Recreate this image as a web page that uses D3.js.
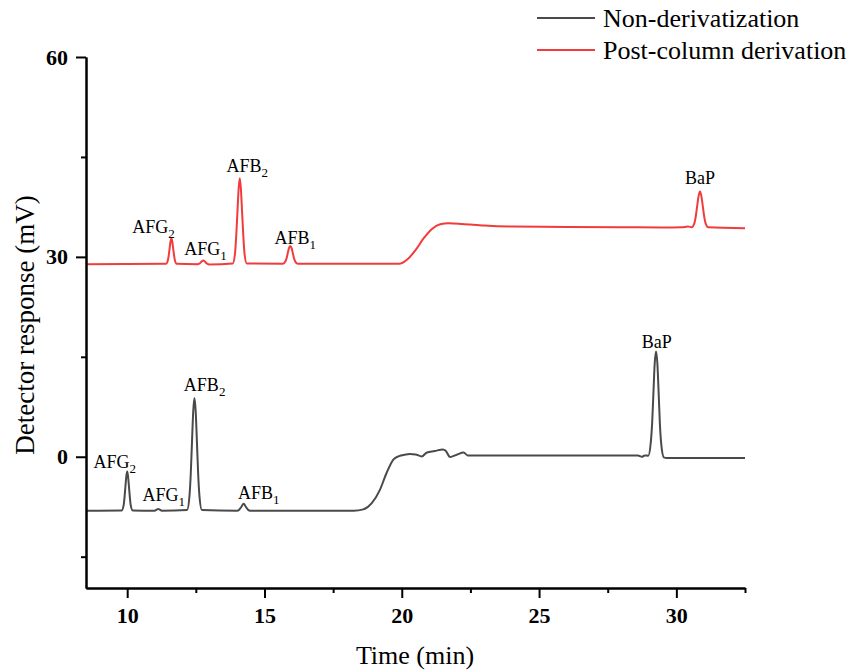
<!DOCTYPE html>
<html>
<head>
<meta charset="utf-8">
<script src="https://cdn.jsdelivr.net/npm/d3@7"></script>
<style>
  body { margin:0; background:#fff; }
  text { font-family:"Liberation Serif","Times New Roman",serif; }
</style>
</head>
<body>
<div class="chart"></div>
<script>
// chromatogram readings (time in min, response in mV)
var nonDerivTime = [8.5, 9.8, 9.87, 9.9, 9.935, 9.97, 10.0, 10.03, 10.065, 10.1, 10.13, 10.2,
  11.0, 11.07, 11.13, 11.19, 11.26,
  12.18, 12.27, 12.315, 12.36, 12.405, 12.45, 12.495, 12.54, 12.585, 12.63, 12.72,
  14.0, 14.08, 14.16, 14.24, 14.32, 14.4, 14.48,
  18.25, 18.6, 18.9, 19.2, 19.45, 19.7, 19.9, 20.1, 20.3, 20.5, 20.73, 20.9, 21.2, 21.5,
  21.6, 21.76, 22.0, 22.25, 22.4, 25.0, 28.6, 28.75, 28.85,
  28.975, 29.07, 29.12, 29.165, 29.21, 29.26, 29.31, 29.355, 29.4, 29.45, 29.545, 29.65, 32.5];
var nonDerivResp = [-8.1, -8.05, -7.3, -6.2, -4.5, -2.9, -2.2, -2.9, -4.5, -6.2, -7.3, -8.05,
  -8.1, -7.95, -7.85, -7.95, -8.1,
  -8.0, -5.8, -2.6, 2.2, 6.8, 8.8, 6.8, 2.2, -2.6, -5.8, -8.0,
  -8.1, -7.95, -7.5, -7.05, -7.5, -7.95, -8.1,
  -8.1, -7.9, -7.0, -5.0, -2.4, -0.4, 0.1, 0.3, 0.4, 0.35, 0.05, 0.6, 0.85, 1.1,
  0.9, -0.05, 0.3, 0.65, 0.2, 0.2, 0.2, 0.0, 0.2,
  0.15, 2.2, 5.2, 9.6, 13.9, 15.8, 13.9, 9.6, 5.0, 1.9, -0.1, -0.2, -0.2];

var postColTime = [8.5, 11.415, 11.48, 11.51, 11.545, 11.58, 11.61, 11.64, 11.675, 11.71, 11.74, 11.805,
  12.55, 12.65, 12.71, 12.77, 12.83, 12.9, 13.0,
  13.845, 13.93, 13.97, 14.015, 14.06, 14.1, 14.14, 14.185, 14.23, 14.27, 14.355,
  15.67, 15.76, 15.805, 15.85, 15.895, 15.94, 15.985, 16.03, 16.075, 16.12, 16.21,
  19.9, 20.2, 20.5, 20.8, 21.1, 21.4, 21.7, 22.2, 23.0, 24.0, 26.0, 28.0, 29.5, 30.2, 30.42,
  30.56, 30.66, 30.71, 30.76, 30.81, 30.86, 30.91, 30.96, 31.01, 31.06, 31.16, 32.5];
var postColResp = [28.9, 28.95, 29.45, 30.15, 31.25, 32.35, 32.8, 32.35, 31.25, 30.15, 29.45, 28.95,
  28.9, 29.05, 29.3, 29.45, 29.3, 29.0, 28.85,
  29.0, 30.65, 33.1, 36.7, 40.3, 41.8, 40.3, 36.7, 33.1, 30.65, 29.0,
  28.95, 29.3, 29.8, 30.6, 31.35, 31.65, 31.35, 30.6, 29.8, 29.3, 28.95,
  28.95, 29.6, 31.0, 32.8, 34.2, 34.9, 35.05, 34.95, 34.7, 34.55, 34.5, 34.45, 34.4, 34.45, 34.55,
  34.45, 35.1, 36.15, 37.7, 39.15, 39.8, 39.15, 37.7, 36.15, 35.1, 34.45, 34.3];

var seriesNames = ["Non-derivatization", "Post-column derivation"];
var seriesColors = ["#4a4a4a", "#f23b3b"];

// peak labels: name, subscript, position (time, response)
var nonDerivLabelName = ["AFG", "AFG", "AFB", "AFB", "BaP"];
var nonDerivLabelSub  = ["2", "1", "2", "1", ""];
var nonDerivLabelTime = [9.55, 11.33, 12.82, 14.79, 29.29];
var nonDerivLabelResp = [-1.7, -6.7, 9.8, -6.35, 16.3];

var postColLabelName = ["AFG", "AFG", "AFB", "AFB", "BaP"];
var postColLabelSub  = ["2", "1", "2", "1", ""];
var postColLabelTime = [10.96, 12.85, 14.37, 16.12, 30.86];
var postColLabelResp = [33.6, 30.3, 42.7, 31.9, 40.95];

var xMajor = [10, 15, 20, 25, 30];
var xMinor = [12.5, 17.5, 22.5, 27.5, 32.5];
var yMajor = [0, 30, 60];
var yMinor = [-15, 15, 45];

var width = 851, height = 671;
var svg = d3.select(".chart").append("svg")
  .attr("width", width).attr("height", height);

var x = d3.scaleLinear().domain([8.5, 32.5]).range([86, 745]);
var y = d3.scaleLinear().domain([-19.7, 60]).range([588, 57]);

var line = d3.line()
  .x(function(d){ return x(d[0]); })
  .y(function(d){ return y(d[1]); })
  .curve(d3.curveMonotoneX);

var black = d3.zip(nonDerivTime, nonDerivResp);
var red = d3.zip(postColTime, postColResp);

svg.append("path").datum(black)
  .attr("d", line).attr("fill", "none")
  .attr("stroke", seriesColors[0]).attr("stroke-width", 2).attr("stroke-linejoin", "round");
svg.append("path").datum(red)
  .attr("d", line).attr("fill", "none")
  .attr("stroke", seriesColors[1]).attr("stroke-width", 2).attr("stroke-linejoin", "round");

// axes (minor ticks in their own groups so they don't replace the major ones)
var xPos = "translate(0," + y(-19.7) + ")";
var yPos = "translate(" + x(8.5) + ",0)";
svg.append("g").attr("class", "axis").attr("transform", xPos)
  .call(d3.axisBottom(x).tickValues(xMinor).tickSize(5).tickSizeOuter(0).tickFormat(""));
svg.append("g").attr("class", "axis").attr("transform", xPos)
  .call(d3.axisBottom(x).tickValues(xMajor).tickSize(10).tickSizeOuter(0).tickPadding(9));
svg.append("g").attr("class", "axis").attr("transform", yPos)
  .call(d3.axisLeft(y).tickValues(yMinor).tickSize(5).tickSizeOuter(0).tickFormat(""));
svg.append("g").attr("class", "axis").attr("transform", yPos)
  .call(d3.axisLeft(y).tickValues(yMajor).tickSize(10).tickSizeOuter(0).tickPadding(8));

svg.selectAll(".axis .domain").attr("stroke", "#000").attr("stroke-width", 2);
svg.selectAll(".axis .tick line").attr("stroke", "#000").attr("stroke-width", 2);
svg.selectAll(".axis .tick text")
  .style("font-family", "'Liberation Serif', serif")
  .style("font-size", "22px").style("font-weight", "bold").attr("fill", "#000");

svg.append("text")
  .attr("x", 415).attr("y", 664)
  .attr("text-anchor", "middle")
  .style("font-size", "26px")
  .text("Time (min)");

svg.append("text")
  .attr("transform", "translate(34,325) rotate(-90)")
  .attr("text-anchor", "middle")
  .style("font-size", "27px")
  .text("Detector response (mV)");

// peak labels
function addLabels(names, subs, times, resps) {
  names.forEach(function(n, i){
    var t = svg.append("text")
      .attr("x", x(times[i])).attr("y", y(resps[i]))
      .attr("text-anchor", "middle")
      .style("font-size", "18px")
      .attr("fill", "#000");
    t.append("tspan").text(n);
    if (subs[i]) {
      t.append("tspan").attr("dy", 5).style("font-size", "13px").text(subs[i]);
    }
  });
}
addLabels(nonDerivLabelName, nonDerivLabelSub, nonDerivLabelTime, nonDerivLabelResp);
addLabels(postColLabelName, postColLabelSub, postColLabelTime, postColLabelResp);

// legend
var legend = svg.append("g");
seriesNames.forEach(function(name, i){
  var ly = 18 + i * 32;
  legend.append("line")
    .attr("x1", 537).attr("x2", 595).attr("y1", ly).attr("y2", ly)
    .attr("stroke", seriesColors[i]).attr("stroke-width", 2);
  legend.append("text")
    .attr("x", 603).attr("y", ly + 9)
    .style("font-size", "26px")
    .text(name);
});
</script>
</body>
</html>
